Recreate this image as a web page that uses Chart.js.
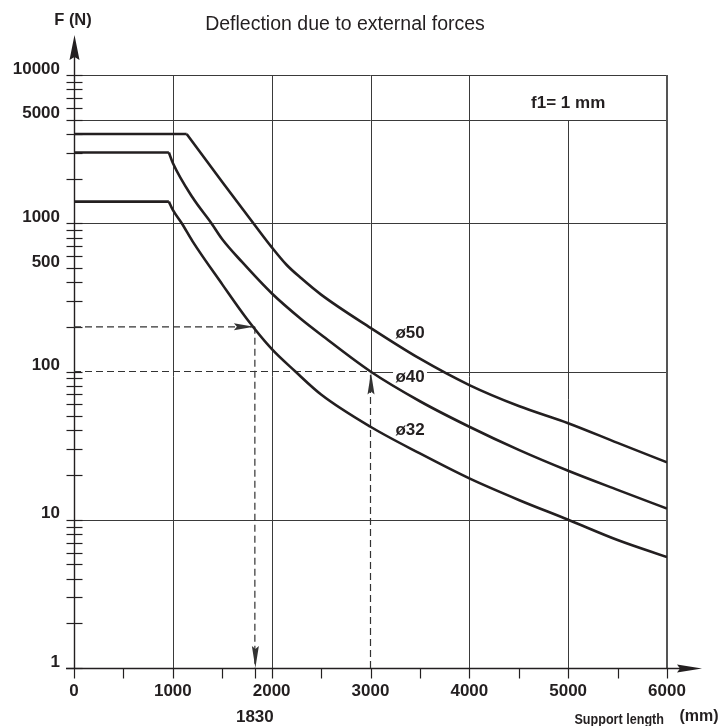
<!DOCTYPE html>
<html>
<head>
<meta charset="utf-8">
<script src="https://cdn.jsdelivr.net/npm/chart.js@4.4.1/dist/chart.umd.min.js"></script>
<style>
  html, body { margin: 0; padding: 0; background: #ffffff; }
  #wrap { width: 720px; height: 726px; }
</style>
</head>
<body>
<div id="wrap"><canvas id="c" width="720" height="726"></canvas></div>
<script>
// ---------- data ----------
const lengthD50 = [0, 1140, 1500, 1830, 2000, 2150, 2300, 2500, 3000, 3500, 4000, 4500, 5000, 5500, 6000];
const forceD50  = [4000, 4000, 1900, 970, 690, 525, 425, 330, 197, 122, 81, 58.5, 44.8, 33, 24.4];

const lengthD40 = [0, 960, 1000, 1200, 1390, 1500, 1700, 2000, 2300, 2500, 3000, 3500, 4000, 4500, 5000, 5500, 6000];
const forceD40  = [3000, 3000, 2550, 1490, 1000, 780, 548, 337, 225, 177, 100, 63, 42.4, 29.6, 21.4, 15.9, 11.9];

const lengthD32 = [0, 960, 1000, 1090, 1200, 1500, 1750, 2000, 2240, 2500, 3000, 3500, 4000, 4500, 5000, 5500, 6000];
const forceD32  = [1400, 1400, 1230, 1000, 755, 387, 226, 142, 100, 70, 42.4, 28, 19, 13.6, 10, 7.3, 5.6];

const seriesNames = ['ø50', 'ø40', 'ø32'];

// reading examples (dashed guides)
const guideLength = [1830, 3000];
const guideForce  = [200, 100];

const xTickValues = [0, 1000, 2000, 3000, 4000, 5000, 6000];
const xTickLabels = ['0', '1000', '2000', '3000', '4000', '5000', '6000'];
const yTickValues = [1, 10, 100, 500, 1000, 5000, 10000];
const yTickLabels = ['1', '10', '100', '500', '1000', '5000', '10000'];

const titleText = 'Deflection due to external forces';
const yAxisTitle = 'F (N)';
const xAxisTitle = 'Support length';
const xAxisUnit = '(mm)';
const noteText = 'f1= 1 mm';

// ---------- chart ----------
const FONT = '"Liberation Sans", Arial, Helvetica, sans-serif';
const INK = '#231f20';
const GRID = '#3a3a3a';

const pts = (xs, ys) => xs.map((v, i) => ({ x: v, y: ys[i] }));

const plateauStyle = { borderColor: INK, borderWidth: 2.6, pointRadius: 0, tension: 0, fill: false };
const curveStyle = { borderColor: INK, borderWidth: 2.6, pointRadius: 0, cubicInterpolationMode: 'monotone', fill: false };
const guideStyle = { borderColor: '#333', borderWidth: 1.2, borderDash: [7, 4], pointRadius: 0, tension: 0, fill: false };

// each series: flat plateau (first two points) + smooth falling part (from the knee on)
function seriesSets(name, xs, ys) {
  const all = pts(xs, ys);
  return [
    Object.assign({ label: name + ' plateau', data: all.slice(0, 2) }, plateauStyle),
    Object.assign({ label: name, data: all.slice(1) }, curveStyle)
  ];
}

const datasets = [
  ...seriesSets(seriesNames[0], lengthD50, forceD50),
  ...seriesSets(seriesNames[1], lengthD40, forceD40),
  ...seriesSets(seriesNames[2], lengthD32, forceD32),
  Object.assign({ label: 'g1h', data: [{ x: 0, y: guideForce[0] }, { x: guideLength[0], y: guideForce[0] }] }, guideStyle),
  Object.assign({ label: 'g1v', data: [{ x: guideLength[0], y: guideForce[0] }, { x: guideLength[0], y: 1 }] }, guideStyle),
  Object.assign({ label: 'g2v', data: [{ x: guideLength[1], y: 1 }, { x: guideLength[1], y: guideForce[1] }] }, guideStyle),
  Object.assign({ label: 'g2h', data: [{ x: 0, y: guideForce[1] }, { x: guideLength[1], y: guideForce[1] }] }, guideStyle)
];

function line(ctx, x1, y1, x2, y2) {
  ctx.beginPath(); ctx.moveTo(x1, y1); ctx.lineTo(x2, y2); ctx.stroke();
}
function arrow(ctx, tx, ty, dir, len, half) {
  ctx.beginPath();
  ctx.moveTo(tx, ty);
  if (dir === 'up')    { ctx.lineTo(tx - half, ty + len); ctx.lineTo(tx, ty + len - 3); ctx.lineTo(tx + half, ty + len); }
  if (dir === 'down')  { ctx.lineTo(tx - half, ty - len); ctx.lineTo(tx, ty - len + 3); ctx.lineTo(tx + half, ty - len); }
  if (dir === 'right') { ctx.lineTo(tx - len, ty - half); ctx.lineTo(tx - len + 3, ty); ctx.lineTo(tx - len, ty + half); }
  ctx.closePath();
  ctx.fill();
}

const decor = {
  id: 'decor',
  beforeDatasetsDraw(chart) {
    const { ctx, chartArea: a, scales: { x, y } } = chart;
    const X = v => Math.round(x.getPixelForValue(v)) + 0.5;
    const Y = v => Math.round(y.getPixelForValue(v)) + 0.5;
    ctx.save();
    ctx.strokeStyle = GRID;
    ctx.lineWidth = 1;
    [1000, 2000, 3000, 4000, 5000].forEach(v => {
      let top = a.top;
      let bottom = a.bottom + 10;
      if (v === 5000) top = Y(5000);
      if (v === guideLength[1]) bottom = Y(guideForce[1]);
      line(ctx, X(v), top, X(v), bottom);
    });
    [10000, 5000, 1000, 10].forEach(v => line(ctx, a.left, Y(v), a.right, Y(v)));
    line(ctx, X(guideLength[1]), Y(100), a.right, Y(100));
    ctx.lineWidth = 2; ctx.strokeStyle = '#555';
    line(ctx, a.right, a.top, a.right, a.bottom);
    ctx.lineWidth = 1.4; ctx.strokeStyle = INK; ctx.fillStyle = INK;
    const ax = X(0), ay = Y(1);
    line(ctx, ax, ay, ax, a.top - 18);
    arrow(ctx, ax, a.top - 40, 'up', 25, 5);
    line(ctx, a.left - 8, ay, a.right + 14, ay);
    arrow(ctx, a.right + 35, ay, 'right', 25, 4);
    ctx.lineWidth = 1.2;
    for (let k = 0; k < 4; k++) {
      for (let d = 1; d <= 9; d++) {
        const v = d * Math.pow(10, k);
        line(ctx, ax - 8, Y(v), ax + 8, Y(v));
      }
    }
    line(ctx, ax - 8, Y(10000), ax + 8, Y(10000));
    for (let v = 0; v <= 6000; v += 500) line(ctx, X(v), ay, X(v), ay + 10);
    line(ctx, X(guideLength[0]), ay, X(guideLength[0]), ay + 10);
    ctx.restore();
  },
  afterDatasetsDraw(chart) {
    const { ctx, chartArea: a, scales: { x, y } } = chart;
    const X = v => x.getPixelForValue(v);
    const Y = v => y.getPixelForValue(v);
    ctx.save();
    ctx.fillStyle = '#333';
    arrow(ctx, X(guideLength[0]) - 1, Y(guideForce[0]), 'right', 20, 3.5);
    arrow(ctx, X(guideLength[0]) + 0.5, Y(1), 'down', 22, 3.5);
    arrow(ctx, X(guideLength[1]) + 0.5, Y(guideForce[1]) + 1, 'up', 22, 3.5);

    ctx.fillStyle = INK;
    ctx.font = 'bold 17px ' + FONT;
    ctx.textAlign = 'center';
    ctx.textBaseline = 'middle';
    const lx = X(3400);
    const labelForce = [180, 92, 40];
    seriesNames.forEach((n, i) => {
      const ly = Y(labelForce[i]);
      if (i === 1) {
        ctx.fillStyle = '#fff';
        ctx.fillRect(lx - 17, Y(100) - 4, 34, 8);
        ctx.fillStyle = INK;
      }
      ctx.fillText(n, lx, ly);
    });

    ctx.textBaseline = 'alphabetic';
    ctx.font = '19.5px ' + FONT;
    ctx.fillText(titleText, 345, 30);
    ctx.font = 'bold 16.5px ' + FONT;
    ctx.fillText(yAxisTitle, 73, 25);
    ctx.font = 'bold 17px ' + FONT;
    ctx.fillText(noteText, (X(4000) + X(6000)) / 2, 108);
    ctx.fillText(String(guideLength[0]), X(guideLength[0]), 722);
    ctx.font = 'bold 16px ' + FONT;
    ctx.fillText(xAxisUnit, 699, 721);
    ctx.save();
    ctx.translate(664, 724);
    ctx.scale(0.84, 1);
    ctx.textAlign = 'right';
    ctx.font = 'bold 15px ' + FONT;
    ctx.fillText(xAxisTitle, 0, 0);
    ctx.restore();
    ctx.restore();
  }
};

new Chart(document.getElementById('c'), {
  type: 'line',
  data: { datasets },
  options: {
    responsive: false,
    devicePixelRatio: 1,
    animation: false,
    layout: { padding: { left: 0, top: 75, right: 53, bottom: 0 } },
    plugins: { legend: { display: false }, tooltip: { enabled: false }, title: { display: false } },
    scales: {
      x: {
        type: 'linear', min: 0, max: 6000,
        afterBuildTicks: s => { s.ticks = xTickValues.map(v => ({ value: v })); },
        afterFit: s => { s.height = 58; },
        grid: { display: false, drawTicks: false },
        border: { display: false },
        ticks: {
          autoSkip: false, maxRotation: 0, padding: 13,
          color: INK, font: { family: FONT, size: 17, weight: 'bold' },
          callback: (v, i) => xTickLabels[i]
        }
      },
      y: {
        type: 'logarithmic', min: 1, max: 10000,
        afterBuildTicks: s => { s.ticks = yTickValues.map(v => ({ value: v })); },
        afterFit: s => { s.width = 74; },
        grid: { display: false, drawTicks: false },
        border: { display: false },
        ticks: {
          autoSkip: false, padding: 14, labelOffset: -6,
          color: INK, font: { family: FONT, size: 17, weight: 'bold' },
          callback: (v, i) => yTickLabels[i]
        }
      }
    }
  },
  plugins: [decor]
});
</script>
</body>
</html>
